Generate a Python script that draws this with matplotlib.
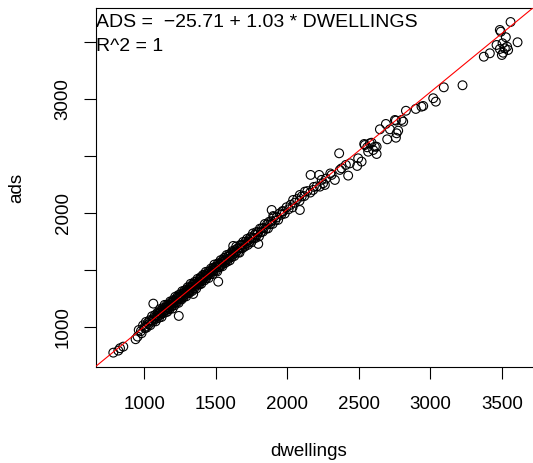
import matplotlib.pyplot as plt
import numpy as np

plt.rcParams['font.family'] = ['Liberation Sans', 'DejaVu Sans']

# regression fit: ADS = a + b * DWELLINGS
intercept = -25.71
slope = 1.03

# low end and the main band
dwellings_lo = [782, 817, 829, 852, 938, 952, 960, 975, 980, 990, 1002, 1003, 1010, 1015,
                1022, 1030, 1036, 1041, 1048, 1053, 1058, 1062, 1064, 1069, 1073, 1078, 1082,
                1087, 1091, 1095, 1099]
ads_lo = [774, 792, 813, 827, 892, 915, 973, 963, 945, 1014, 1001, 989, 1044, 994,
          1035, 1023, 1059, 1016, 1055, 1094, 1046, 1205, 1080, 1067, 1104, 1049, 1093,
          1074, 1126, 1099, 1121]

dwellings_mid = [1103, 1106, 1110, 1113, 1117, 1120, 1124, 1127, 1131, 1134, 1138, 1141, 1145,
                 1148, 1152, 1155, 1159, 1162, 1166, 1169, 1173, 1176, 1180, 1183, 1187, 1190,
                 1194, 1197, 1201, 1204, 1208, 1211, 1215, 1218, 1222, 1225, 1229, 1232, 1236,
                 1239, 1240, 1243, 1246, 1250, 1253, 1257, 1260, 1264, 1267, 1271, 1274, 1278,
                 1281, 1285, 1288, 1292, 1295, 1299, 1302, 1306, 1309, 1313, 1316, 1320, 1323,
                 1327, 1330, 1334, 1337, 1341, 1344, 1348, 1351, 1355, 1358, 1362, 1365, 1369,
                 1372, 1376, 1379, 1383, 1386, 1390, 1393, 1397]
ads_mid = [1082, 1121, 1157, 1108, 1145, 1088, 1135, 1165, 1121, 1154, 1141, 1194, 1128,
           1171, 1151, 1192, 1133, 1176, 1197, 1163, 1192, 1157, 1224, 1190, 1215, 1180,
           1212, 1162, 1236, 1206, 1230, 1191, 1265, 1231, 1218, 1256, 1218, 1249, 1279,
           1212, 1097, 1268, 1251, 1288, 1247, 1273, 1242, 1314, 1269, 1299, 1262, 1298,
           1321, 1284, 1303, 1269, 1328, 1308, 1349, 1299, 1332, 1298, 1347, 1326, 1379,
           1325, 1350, 1316, 1375, 1290, 1372, 1338, 1396, 1358, 1381, 1337, 1400, 1378,
           1423, 1373, 1398, 1372, 1418, 1396, 1437, 1379]

dwellings_up = [1401, 1405, 1409, 1413, 1417, 1421, 1425, 1429, 1433, 1437, 1441, 1445, 1449,
                1453, 1457, 1461, 1465, 1469, 1473, 1477, 1481, 1485, 1489, 1493, 1497, 1501,
                1505, 1509, 1513, 1516, 1517, 1521, 1525, 1529, 1533, 1537, 1541, 1545, 1549,
                1553, 1558, 1562, 1566, 1570, 1575, 1579, 1583, 1588, 1592, 1597, 1601, 1606,
                1610, 1615, 1619, 1621, 1624, 1628, 1633, 1637, 1642, 1646, 1651, 1656, 1660,
                1665, 1670, 1675, 1680, 1685, 1690, 1695]
ads_up = [1429, 1407, 1457, 1425, 1454, 1410, 1448, 1484, 1430, 1464, 1450, 1486, 1430,
          1473, 1491, 1463, 1513, 1481, 1499, 1465, 1521, 1492, 1548, 1510, 1530, 1496,
          1530, 1488, 1558, 1398, 1527, 1559, 1525, 1553, 1587, 1543, 1571, 1533, 1589,
          1570, 1607, 1561, 1595, 1583, 1632, 1574, 1618, 1598, 1638, 1585, 1627, 1646,
          1614, 1667, 1636, 1712, 1659, 1623, 1676, 1650, 1707, 1667, 1691, 1656, 1690,
          1653, 1720, 1691, 1718, 1692, 1747, 1722]

dwellings_hi = [1701, 1706, 1712, 1718, 1723, 1729, 1735, 1741, 1747, 1753, 1759, 1765, 1771,
                1777, 1783, 1789, 1795, 1796, 1801, 1808, 1814, 1821, 1828, 1835, 1842, 1849,
                1857, 1864, 1872, 1880, 1888, 1890, 1897, 1901, 1906, 1915, 1925, 1935, 1946,
                1957, 1966, 1969, 1981, 1994, 2008, 2022, 2036, 2040, 2052, 2068, 2085, 2087,
                2087, 2100, 2118, 2122, 2140, 2160, 2162, 2180, 2185, 2205, 2222, 2227, 2240,
                2250, 2262, 2270, 2300, 2309, 2332, 2362, 2367, 2379, 2409, 2425, 2437, 2488,
                2495, 2519]
ads_hi = [1706, 1749, 1731, 1774, 1721, 1763, 1749, 1789, 1743, 1784, 1822, 1778, 1810,
          1782, 1834, 1813, 1833, 1730, 1795, 1864, 1832, 1866, 1837, 1870, 1905, 1862,
          1901, 1866, 1924, 1904, 1929, 2028, 1906, 1975, 1967, 1936, 1963, 1941, 1998,
          1986, 2019, 2014, 1996, 2052, 2034, 2073, 2051, 2116, 2092, 2124, 2108, 2160,
          2028, 2147, 2150, 2189, 2194, 2181, 2336, 2204, 2231, 2235, 2336, 2233, 2293,
          2263, 2248, 2304, 2349, 2336, 2292, 2526, 2380, 2394, 2424, 2330, 2438, 2415,
          2482, 2453]

# sparse upper range
dwellings_top = [2537, 2542, 2558, 2565, 2577, 2589, 2600, 2612, 2624, 2624, 2647, 2689, 2698,
                 2717, 2752, 2759, 2759, 2764, 2775, 2799, 2810, 2829, 2898, 2938, 2950, 3020,
                 3038, 3094, 3225, 3374, 3416, 3463, 3486, 3486, 3493, 3500, 3505, 3509, 3521,
                 3528, 3537, 3544, 3561, 3610]
ads_top = [2608, 2599, 2579, 2540, 2614, 2619, 2555, 2584, 2584, 2520, 2737, 2784, 2649,
           2737, 2819, 2813, 2663, 2702, 2725, 2819, 2804, 2900, 2916, 2936, 2942, 3010,
           2980, 3106, 3124, 3375, 3405, 3478, 3610, 3443, 3595, 3390, 3493, 3410, 3449,
           3546, 3463, 3434, 3680, 3502]

dwellings = np.array(dwellings_lo + dwellings_mid + dwellings_up + dwellings_hi + dwellings_top)
ads = np.array(ads_lo + ads_mid + ads_up + ads_hi + ads_top)

x_ticks = [1000, 1500, 2000, 2500, 3000, 3500]
y_ticks = [1000, 1500, 2000, 2500, 3000, 3500]
y_ticklabels = ['1000', '', '2000', '', '3000', '']

fig = plt.figure(figsize=(5.33, 4.63), dpi=100)
ax = fig.add_axes([96 / 533, 96 / 463, 438 / 533, 359 / 463])

ax.scatter(dwellings, ads, s=40, facecolors='none', edgecolors='black', linewidths=0.8, zorder=2)
ax.axline((0, intercept), slope=slope, color='red', lw=0.8, zorder=3)

ax.set_xlim(661, 3725)
ax.set_ylim(648, 3803)

ax.set_xticks(x_ticks)
ax.set_xticklabels([str(t) for t in x_ticks])
ax.set_yticks(y_ticks)
ax.set_yticklabels(y_ticklabels, rotation=90, va='center')
ax.tick_params(axis='both', direction='out', length=8.6, width=0.8, labelsize=13.5, colors='black')
ax.tick_params(axis='x', pad=12)
ax.tick_params(axis='y', pad=9)
for sp in ax.spines.values():
    sp.set_linewidth(0.8)
    sp.set_color('black')

ax.set_xlabel('dwellings', fontsize=13.5)
ax.xaxis.set_label_coords((309 - 96) / 438, -(451 - 367) / 359)
ax.set_ylabel('ads', fontsize=13.5)
ax.yaxis.set_label_coords(-(96 - 17) / 438, 0.5)
ax.xaxis.label.set_va('center')
ax.yaxis.label.set_va('center')

ax.text(0.0, (367 - 27) / 359, 'ADS =  \u221225.71 + 1.03 * DWELLINGS', transform=ax.transAxes,
        ha='left', va='baseline', fontsize=14)
ax.text(0.0, (367 - 51) / 359, 'R^2 = 1', transform=ax.transAxes,
        ha='left', va='baseline', fontsize=14)

fig.savefig('out.png', dpi=100)
